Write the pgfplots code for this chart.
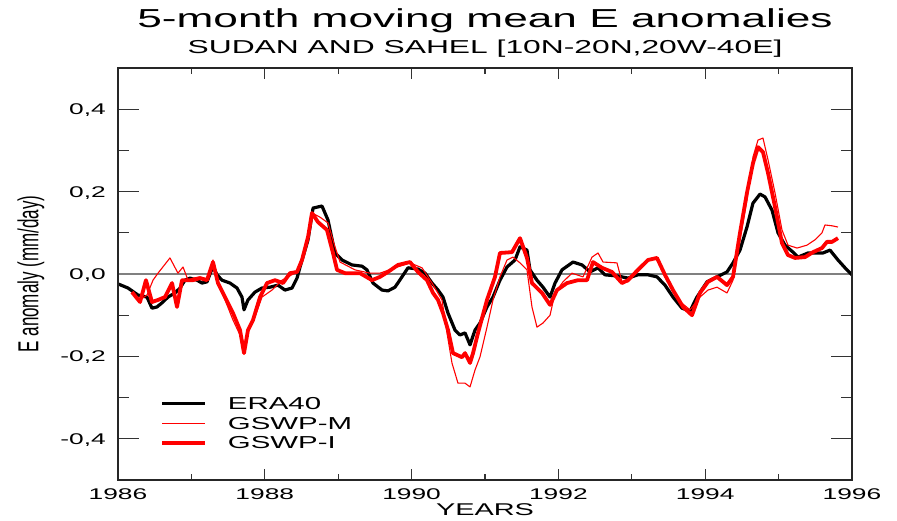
\documentclass[border=0pt]{standalone}
\usepackage{fontspec}
\setmainfont{Liberation Sans}
\usepackage{graphicx}
\usepackage{pgfplots}
\pgfplotsset{compat=1.18}
% the figure's lettering is set wide
\newcommand{\sx}[1]{\scalebox{1.7}[1]{#1}}

\begin{document}
\begin{tikzpicture}
\path[use as bounding box] (-118pt,-40pt) rectangle (779pt,480pt);

% main axis: data, y ticks, legend
\begin{axis}[
  scale only axis, width=734pt, height=412pt,
  xmin=1986, xmax=1996, ymin=-0.5, ymax=0.5,
  axis line style={line width=1.6pt, black!85},
  xtick=\empty,
  ytick={-0.4,-0.2,0,0.2,0.4},
  yticklabels={{\sx{-0,4}},{\sx{-0,2}},{\sx{0,0}},{\sx{0,2}},{\sx{0,4}}},
  minor y tick num=1,
  tick align=inside,
  major tick length=21pt, minor tick length=11pt,
  every tick/.style={line width=1.3pt, black!80},
  yticklabel style={font=\fontsize{15.5}{16}\selectfont, inner sep=0pt, anchor=base east, xshift=-12pt, yshift=-5.5pt},
  ylabel={\scalebox{1}[1.7]{E anomaly (mm/day)}},
  ylabel style={font=\fontsize{17}{18}\selectfont, at={(axis description cs:-0.1185,0.5)}, anchor=center, inner sep=0pt},
  legend style={draw=none, fill=none, inner sep=0pt, row sep=7pt, column sep=21pt,
    at={(axis description cs:0.0572,0.138)}, anchor=west,
    font=\fontsize{17.3}{18}\selectfont,
    nodes={inner sep=0pt, text height=12.5pt, text depth=0pt, anchor=base west}},
  legend image code/.code={\draw[#1] (0pt,6.2pt) -- (43pt,6.2pt);},
  line join=round,
]
\addplot[black!50, line width=1.2pt, forget plot] coordinates {(1986,0) (1996,0)};

% ERA40
\addplot[black, line width=3.2pt] coordinates {
(1986.00,-0.024) (1986.136,-0.034) (1986.272,-0.051) (1986.395,-0.056) (1986.463,-0.083)
(1986.531,-0.080) (1986.599,-0.070) (1986.681,-0.056) (1986.777,-0.046) (1986.845,-0.034)
(1986.913,-0.015) (1986.981,-0.010) (1987.076,-0.015) (1987.144,-0.022) (1987.213,-0.019)
(1987.294,0.019) (1987.349,-0.002) (1987.417,-0.015) (1987.526,-0.022) (1987.621,-0.034)
(1987.689,-0.056) (1987.717,-0.087) (1987.771,-0.063) (1987.866,-0.044) (1987.962,-0.034)
(1988.071,-0.032) (1988.180,-0.027) (1988.275,-0.039) (1988.371,-0.034) (1988.439,-0.010)
(1988.480,0.017) (1988.589,0.083) (1988.657,0.160) (1988.779,0.165) (1988.861,0.131)
(1988.956,0.051) (1989.052,0.034) (1989.188,0.022) (1989.324,0.019) (1989.392,0.010)
(1989.474,-0.022) (1989.597,-0.039) (1989.678,-0.041) (1989.774,-0.032) (1989.869,-0.007)
(1989.951,0.015) (1990.087,0.012) (1990.183,0.002) (1990.278,-0.022) (1990.360,-0.039)
(1990.428,-0.056) (1990.496,-0.095) (1990.591,-0.136) (1990.659,-0.148) (1990.728,-0.143)
(1990.796,-0.172) (1990.864,-0.136) (1990.932,-0.119) (1991.027,-0.080) (1991.109,-0.056)
(1991.204,-0.015) (1991.300,0.017) (1991.409,0.034) (1991.477,0.066) (1991.572,0.058)
(1991.613,0.010) (1991.708,-0.015) (1991.790,-0.032) (1991.886,-0.056) (1991.954,-0.022)
(1992.049,0.010) (1992.199,0.029) (1992.322,0.022) (1992.431,0.005) (1992.540,0.015)
(1992.635,-0.002) (1992.812,-0.005) (1992.948,-0.010) (1993.084,-0.002) (1993.221,-0.002)
(1993.343,-0.007) (1993.452,-0.027) (1993.561,-0.056) (1993.684,-0.083) (1993.793,-0.090)
(1993.888,-0.056) (1994.025,-0.019) (1994.161,-0.007) (1994.297,0.005) (1994.379,0.027)
(1994.474,0.058) (1994.569,0.114) (1994.651,0.172) (1994.747,0.194) (1994.815,0.187)
(1994.910,0.155) (1994.992,0.100) (1995.087,0.070) (1995.196,0.053) (1995.264,0.041)
(1995.401,0.051) (1995.537,0.051) (1995.605,0.051) (1995.700,0.058) (1995.809,0.034)
(1995.905,0.015) (1996.000,-0.002)
};
\addlegendentry{\sx{ERA40}}

% GSWP-M
\addplot[red, line width=1.1pt] coordinates {
(1986.191,-0.044) (1986.300,-0.063) (1986.395,-0.051) (1986.477,-0.015) (1986.545,0.002)
(1986.708,0.039) (1986.817,0.002) (1986.886,0.017) (1986.954,-0.015) (1987.021,-0.010)
(1987.117,-0.007) (1987.213,-0.012) (1987.294,0.034) (1987.362,-0.022) (1987.458,-0.063)
(1987.567,-0.112) (1987.662,-0.148) (1987.717,-0.189) (1987.771,-0.136) (1987.866,-0.104)
(1987.962,-0.056) (1988.098,-0.039) (1988.234,-0.015) (1988.316,-0.007) (1988.439,0.005)
(1988.507,0.029) (1988.589,0.090) (1988.643,0.148) (1988.752,0.138) (1988.861,0.124)
(1988.956,0.066) (1989.025,0.029) (1989.229,0.010) (1989.433,0.002) (1989.569,0.002)
(1989.774,0.015) (1989.978,0.027) (1990.142,0.015) (1990.278,-0.022) (1990.414,-0.063)
(1990.482,-0.143) (1990.550,-0.216) (1990.632,-0.265) (1990.728,-0.265) (1990.796,-0.274)
(1990.864,-0.233) (1990.932,-0.201) (1991.027,-0.129) (1991.109,-0.063) (1991.204,-0.007)
(1991.300,0.034) (1991.381,0.041) (1991.477,0.027) (1991.572,0.010) (1991.640,-0.080)
(1991.708,-0.129) (1991.790,-0.119) (1991.886,-0.100) (1991.954,-0.046) (1992.063,-0.019)
(1992.185,0.002) (1992.335,-0.007) (1992.458,0.041) (1992.540,0.051) (1992.608,0.029)
(1992.798,0.027) (1992.866,-0.019) (1992.948,-0.019) (1993.084,0.010) (1993.221,0.034)
(1993.343,0.039) (1993.452,-0.007) (1993.629,-0.063) (1993.793,-0.087) (1993.929,-0.056)
(1994.038,-0.039) (1994.161,-0.032) (1994.297,-0.046) (1994.379,-0.015) (1994.474,0.083)
(1994.569,0.180) (1994.651,0.284) (1994.719,0.325) (1994.787,0.330) (1994.856,0.277)
(1994.951,0.197) (1995.046,0.107) (1995.128,0.070) (1995.251,0.063) (1995.387,0.070)
(1995.496,0.083) (1995.591,0.100) (1995.632,0.119) (1995.728,0.117) (1995.809,0.114)
};
\addlegendentry{\sx{GSWP-M}}

% GSWP-I
\addplot[red, line width=3.8pt] coordinates {
(1986.191,-0.044) (1986.300,-0.068) (1986.381,-0.015) (1986.463,-0.068) (1986.545,-0.063)
(1986.640,-0.056) (1986.736,-0.022) (1986.804,-0.080) (1986.872,-0.015) (1986.940,-0.015)
(1987.021,-0.015) (1987.117,-0.010) (1987.213,-0.015) (1987.294,0.029) (1987.362,-0.022)
(1987.458,-0.056) (1987.567,-0.095) (1987.662,-0.136) (1987.717,-0.192) (1987.771,-0.136)
(1987.839,-0.112) (1987.935,-0.056) (1988.030,-0.022) (1988.139,-0.015) (1988.248,-0.022)
(1988.343,0.002) (1988.439,0.005) (1988.507,0.034) (1988.589,0.090) (1988.643,0.148)
(1988.725,0.126) (1988.847,0.107) (1988.929,0.051) (1988.984,0.010) (1989.093,0.002)
(1989.297,0.002) (1989.460,-0.015) (1989.569,-0.007) (1989.678,0.005) (1989.815,0.022)
(1989.978,0.029) (1990.087,0.005) (1990.210,-0.015) (1990.292,-0.046) (1990.360,-0.063)
(1990.428,-0.095) (1990.496,-0.136) (1990.564,-0.192) (1990.687,-0.202) (1990.728,-0.192)
(1990.796,-0.216) (1990.837,-0.192) (1990.905,-0.143) (1991.027,-0.063) (1991.136,-0.007)
(1991.204,0.051) (1991.368,0.053) (1991.477,0.087) (1991.572,0.039) (1991.640,-0.022)
(1991.777,-0.046) (1991.886,-0.075) (1991.981,-0.039) (1992.117,-0.022) (1992.267,-0.015)
(1992.390,-0.015) (1992.471,0.029) (1992.594,0.015) (1992.730,0.005) (1992.866,-0.022)
(1992.948,-0.015) (1993.084,0.010) (1993.221,0.034) (1993.343,0.039) (1993.452,-0.002)
(1993.561,-0.039) (1993.698,-0.080) (1993.820,-0.100) (1993.929,-0.046) (1994.038,-0.019)
(1994.161,-0.007) (1994.297,-0.027) (1994.379,-0.007) (1994.474,0.100) (1994.569,0.197)
(1994.651,0.269) (1994.719,0.308) (1994.787,0.296) (1994.856,0.245) (1994.951,0.163)
(1995.046,0.075) (1995.128,0.046) (1995.223,0.039) (1995.360,0.041) (1995.469,0.053)
(1995.591,0.063) (1995.659,0.078) (1995.728,0.078) (1995.809,0.087)
};
\addlegendentry{\sx{GSWP-I}}
\end{axis}

% same frame: x ticks, year labels, axis title
\begin{axis}[
  scale only axis, width=734pt, height=412pt,
  xmin=1986, xmax=1996, ymin=-0.5, ymax=0.5,
  axis line style={line width=1.6pt, black!85},
  ytick=\empty,
  xtick={1986,1988,1990,1992,1994,1996},
  xticklabels={{\sx{1986}},{\sx{1988}},{\sx{1990}},{\sx{1992}},{\sx{1994}},{\sx{1996}}},
  minor x tick num=1,
  tick align=inside,
  major tick length=11pt, minor tick length=6pt,
  every tick/.style={line width=1.3pt, black!80},
  xticklabel style={font=\fontsize{15.5}{16}\selectfont, inner sep=0pt, anchor=base, yshift=-19pt},
  xlabel={\sx{YEARS}},
  xlabel style={font=\fontsize{17}{18}\selectfont, at={(axis description cs:0.5,-0.085)}, anchor=base, inner sep=0pt},
]
\end{axis}

\node[anchor=base, inner sep=0pt, font=\fontsize{26}{26}\selectfont] at (367pt,452pt) {\sx{5-month moving mean E anomalies}};
\node[anchor=base, inner sep=0pt, font=\fontsize{18.7}{19}\selectfont] at (367pt,426pt) {\sx{SUDAN AND SAHEL [10N-20N,20W-40E]}};
\end{tikzpicture}
\end{document}
